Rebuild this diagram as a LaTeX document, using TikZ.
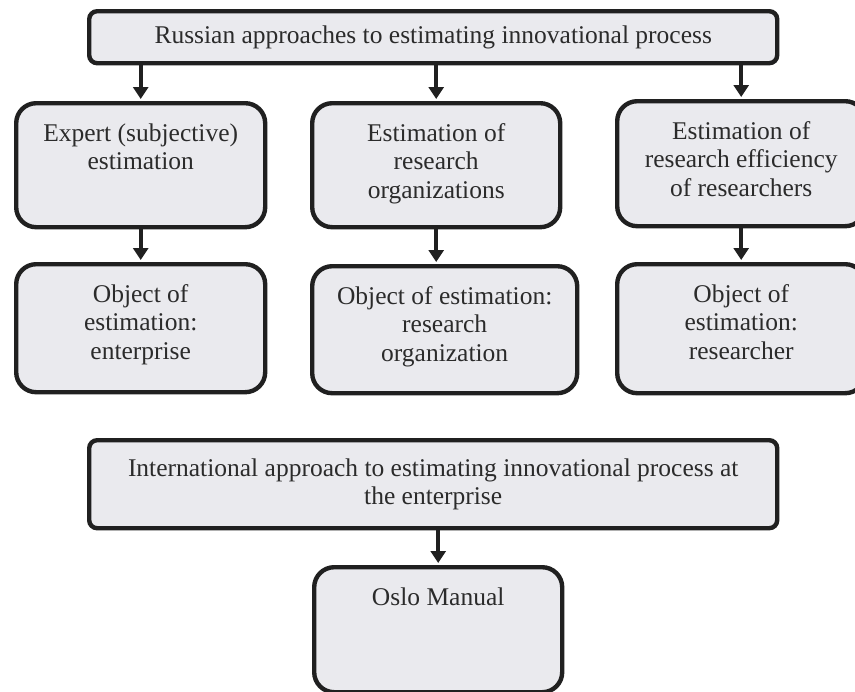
\documentclass[tikz,border=0pt]{standalone}
\usepackage{fontspec}
\setmainfont{Liberation Serif}
\usetikzlibrary{arrows.meta}
\definecolor{boxfill}{HTML}{EAEAEE}
\definecolor{boxline}{HTML}{202020}
\definecolor{inktext}{HTML}{2B2B2B}
\newcommand{\toptext}[3]{\parbox[c][#2][t]{#1}{\centering\rule{0pt}{19pt}#3}}
\newcommand{\midtext}[3]{\parbox[c][#2][c]{#1}{\centering #3}}

\begin{document}
\begin{tikzpicture}[x=0.5pt, y=-0.5pt,
    every node/.style={font=\fontsize{12.75}{14.25}\selectfont, text=inktext, inner sep=0pt},
    box/.style={draw=boxline, fill=boxfill, line width=2.2pt, anchor=north west},
    wide/.style={box, rounded corners=4pt},
    cell/.style={box, rounded corners=10pt},
    arr/.style={-{Triangle[width=7.5pt, length=6pt]}, line width=1.8pt, draw=boxline, shorten >=1pt}]
  \path[use as bounding box, clip] (0,0) rectangle (855,691);

  \node[wide] (rus) at (87,9) {\midtext{344pt}{26pt}{Russian approaches to estimating innovational process}};

  \node[cell] (exp) at (14,101) {\toptext{124.5pt}{62pt}{Expert (subjective)\\ estimation}};
  \node[cell] (org) at (310,101) {\toptext{124pt}{62pt}{Estimation of\\ research\\ organizations}};
  \node[cell] (eff) at (615,99) {\toptext{124pt}{62.5pt}{Estimation of\\ research efficiency\\ of researchers}};

  \node[cell] (objE) at (14,262) {\toptext{124.5pt}{64pt}{Object of\\ estimation:\\ enterprise}};
  \node[cell] (objO) at (310,264) {\toptext{132.5pt}{63.5pt}{Object of estimation:\\ research\\ organization}};
  \node[cell] (objR) at (615,262) {\toptext{124pt}{64.5pt}{Object of\\ estimation:\\ researcher}};

  \node[wide] (intl) at (87,438) {\midtext{344pt}{44pt}{International approach to estimating innovational process at\\ the enterprise}};
  \node[cell] (oslo) at (312,565) {\toptext{124pt}{62.5pt}{Oslo Manual}};

  \draw[arr] (rus.south -| exp.north) -- (exp.north);
  \draw[arr] (rus.south -| org.north) -- (org.north);
  \draw[arr] (rus.south -| eff.north) -- (eff.north);
  \draw[arr] (exp.south) -- (exp.south |- objE.north);
  \draw[arr] (org.south) -- (org.south |- objO.north);
  \draw[arr] (eff.south) -- (eff.south |- objR.north);
  \draw[arr] (oslo.north |- intl.south) -- (oslo.north);
\end{tikzpicture}
\end{document}
